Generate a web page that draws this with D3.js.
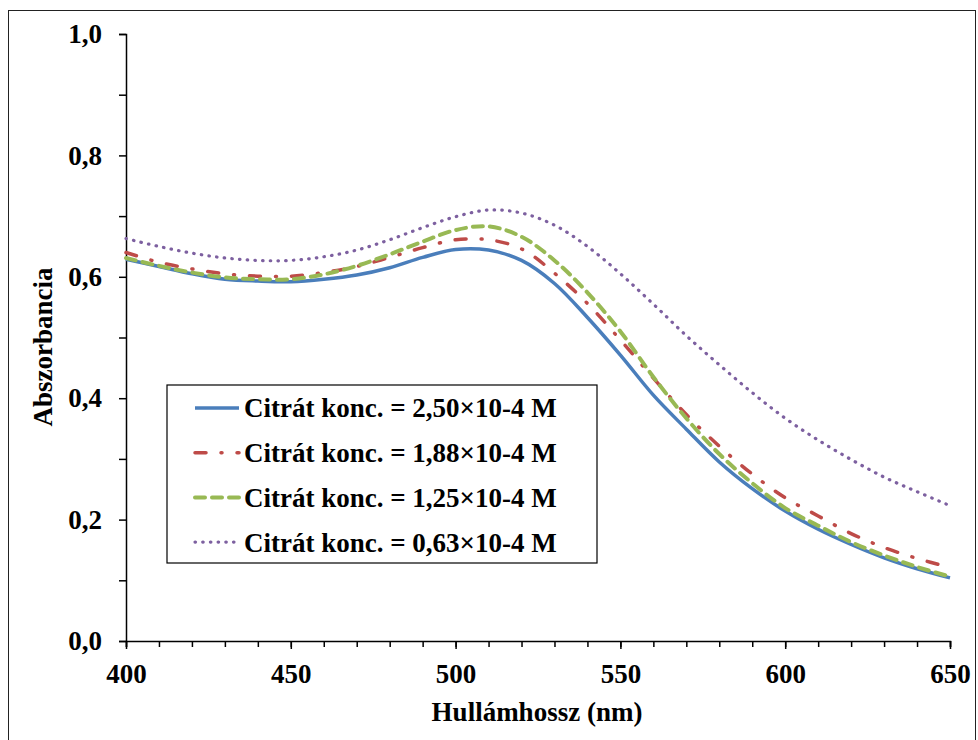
<!DOCTYPE html>
<html>
<head>
<meta charset="utf-8">
<script src="https://cdn.jsdelivr.net/npm/d3@7"></script>
<style>
  body { margin: 0; background: #fff; }
  text { font-family: "Liberation Serif", "Times New Roman", serif; font-weight: bold; }
</style>
</head>
<body>
<div id="vis"></div>
<script>
// data (every 10 nm)
const wavelengths = [400, 410, 420, 430, 440, 450, 460, 470, 480, 490, 500, 510, 520,
                     530, 540, 550, 560, 570, 580, 590, 600, 610, 620, 630, 640, 650];

const conc250 = [0.629, 0.617, 0.605, 0.596, 0.593, 0.592, 0.596, 0.603, 0.615, 0.632, 0.645, 0.644, 0.627,
                 0.589, 0.533, 0.471, 0.405, 0.349, 0.295, 0.251, 0.214, 0.184, 0.159, 0.137, 0.119, 0.104];
const conc188 = [0.640, 0.624, 0.613, 0.605, 0.601, 0.601, 0.607, 0.617, 0.632, 0.648, 0.661, 0.661, 0.646,
                 0.606, 0.556, 0.496, 0.433, 0.373, 0.321, 0.275, 0.236, 0.206, 0.177, 0.154, 0.136, 0.121];
const conc125 = [0.631, 0.618, 0.607, 0.599, 0.596, 0.596, 0.604, 0.618, 0.637, 0.658, 0.677, 0.683, 0.666,
                 0.627, 0.574, 0.510, 0.435, 0.367, 0.308, 0.260, 0.219, 0.190, 0.163, 0.141, 0.122, 0.106];
const conc063 = [0.663, 0.650, 0.639, 0.631, 0.627, 0.627, 0.633, 0.644, 0.661, 0.681, 0.699, 0.710, 0.705,
                 0.685, 0.650, 0.605, 0.555, 0.503, 0.455, 0.409, 0.367, 0.331, 0.299, 0.270, 0.246, 0.223];

const seriesNames = ["Citrát konc. = 2,50×10-4 M", "Citrát konc. = 1,88×10-4 M",
                     "Citrát konc. = 1,25×10-4 M", "Citrát konc. = 0,63×10-4 M"];

const xTicks = [400, 450, 500, 550, 600, 650];
const yTicks = [0, 0.2, 0.4, 0.6, 0.8, 1.0];

const frame_width = 978;
const frame_height = 740;

// styles per series
const styles = [
    {color: "#4A7EBB", width: 3.5, dash: null, cap: "butt"},
    {color: "#BE4B48", width: 3.5, dash: "11,15,1,15", cap: "round"},
    {color: "#98B954", width: 4, dash: "10,7", cap: "round"},
    {color: "#7D60A0", width: 3.2, dash: "0.5,7.2", cap: "round"}
];

const FRAME =
d3.select("#vis")
    .append("svg")
        .attr("width", frame_width)
        .attr("height", frame_height);

// outer chart border
FRAME.append("rect")
    .attr("x", 8.5)
    .attr("y", 10.5)
    .attr("width", 967)
    .attr("height", 740)
    .attr("fill", "none")
    .attr("stroke", "#222")
    .attr("stroke-width", 1);

const x_scale = d3.scaleLinear()
    .domain([400, 650])
    .range([126, 950]);

const y_scale = d3.scaleLinear()
    .domain([0, 1])
    .range([641, 34]);

const fmt = d => d3.format(".1f")(d).replace(".", ",");

// y axis, minor ticks every 0.1
FRAME.append("g")
    .attr("transform", "translate(" + x_scale(400) + ",0)")
    .call(d3.axisLeft(y_scale).tickValues(d3.range(0, 1.01, 0.1)).tickSize(7).tickFormat(""))
    .call(g => g.selectAll("line").attr("stroke", "#000").attr("stroke-width", 1.5))
    .call(g => g.select(".domain").attr("stroke", "#000").attr("stroke-width", 1.5));

FRAME.append("g")
    .attr("transform", "translate(" + x_scale(400) + ",0)")
    .call(d3.axisLeft(y_scale).tickValues(yTicks).tickSize(0).tickPadding(24).tickFormat(fmt))
    .call(g => g.select(".domain").remove())
    .call(g => g.selectAll("text")
        .attr("font-size", "27px")
        .attr("fill", "#000")
        .style("font-family", "Liberation Serif")
        .style("font-weight", "bold"));

// x axis, minor ticks every 10 nm
FRAME.append("g")
    .attr("transform", "translate(0," + y_scale(0) + ")")
    .call(d3.axisBottom(x_scale).tickValues(wavelengths).tickSize(6).tickFormat(""))
    .call(g => g.selectAll("line").attr("stroke", "#000").attr("stroke-width", 1.5))
    .call(g => g.select(".domain").attr("stroke", "#000").attr("stroke-width", 1.5));

FRAME.append("g")
    .attr("transform", "translate(0," + y_scale(0) + ")")
    .call(d3.axisBottom(x_scale).tickValues(xTicks).tickSize(8).tickPadding(15))
    .call(g => g.select(".domain").remove())
    .call(g => g.selectAll("line").attr("stroke", "#000").attr("stroke-width", 1.5))
    .call(g => g.selectAll("text")
        .attr("font-size", "27px")
        .attr("fill", "#000")
        .style("font-family", "Liberation Serif")
        .style("font-weight", "bold"));

// axis titles
FRAME.append("text")
    .attr("x", 537)
    .attr("y", 721)
    .attr("text-anchor", "middle")
    .attr("font-size", "27px")
    .text("Hullámhossz (nm)");

FRAME.append("text")
    .attr("transform", "translate(52,347) rotate(-90)")
    .attr("text-anchor", "middle")
    .attr("font-size", "27px")
    .text("Abszorbancia");

// the curves
const allSeries = [conc250, conc188, conc125, conc063];

const line = d3.line()
    .x((d, i) => x_scale(wavelengths[i]))
    .y(d => y_scale(d))
    .curve(d3.curveCatmullRom.alpha(0.5));

allSeries.forEach((values, k) => {
    FRAME.append("path")
        .datum(values)
        .attr("d", line)
        .attr("fill", "none")
        .attr("stroke", styles[k].color)
        .attr("stroke-width", styles[k].width)
        .attr("stroke-dasharray", styles[k].dash)
        .attr("stroke-linecap", styles[k].cap);
});

// legend
const legend = FRAME.append("g");

legend.append("rect")
    .attr("x", 167)
    .attr("y", 385)
    .attr("width", 430)
    .attr("height", 178)
    .attr("fill", "#fff")
    .attr("stroke", "#000")
    .attr("stroke-width", 1.2);

seriesNames.forEach((name, k) => {
    const yy = 408 + k * 44.7;
    legend.append("line")
        .attr("x1", 195)
        .attr("x2", 239)
        .attr("y1", yy)
        .attr("y2", yy)
        .attr("stroke", styles[k].color)
        .attr("stroke-width", styles[k].width)
        .attr("stroke-dasharray", styles[k].dash)
        .attr("stroke-linecap", styles[k].cap);
    legend.append("text")
        .attr("x", 244)
        .attr("y", yy)
        .attr("dy", "0.35em")
        .attr("font-size", "27px")
        .text(name);
});
</script>
</body>
</html>
